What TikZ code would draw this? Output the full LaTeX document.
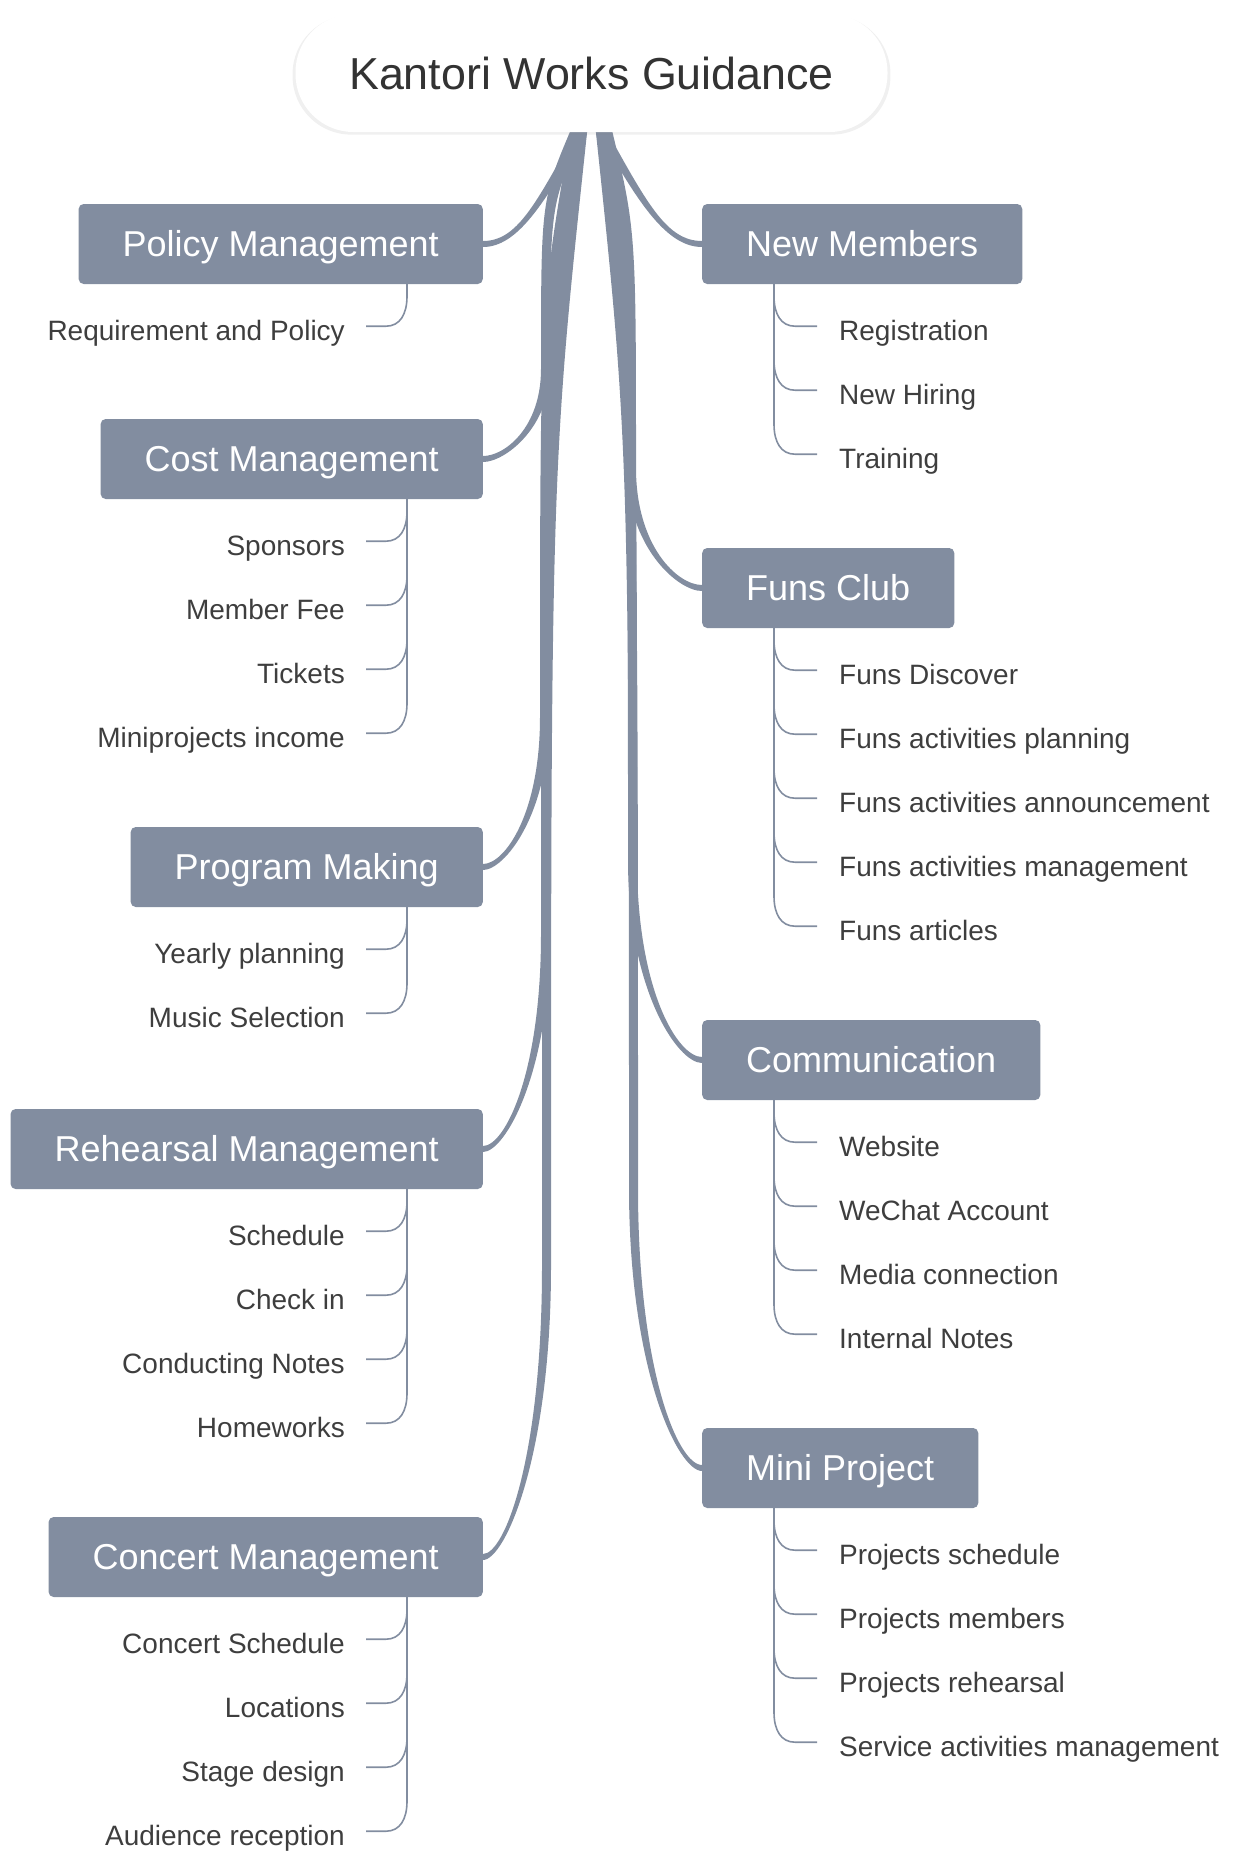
\documentclass[tikz,border=0pt]{standalone}
\usepackage{fontspec}
\setmainfont{Liberation Sans}
\usepackage{xcolor}
\usepackage{tikz}
\usetikzlibrary{calc,backgrounds,shadows}

\definecolor{kgray}{RGB}{130,141,160}
\definecolor{ktext}{RGB}{62,62,62}
\definecolor{kroot}{RGB}{51,51,51}

\tikzset{
  rootbox/.style={fill=white, rounded corners=58pt, minimum width=592pt, minimum height=118pt,
    text=kroot, font=\fontsize{44.8}{54}\selectfont, text height=32pt, text depth=0pt,
    drop shadow={opacity=0.12, shadow xshift=0pt, shadow yshift=-2pt, shadow scale=1.01}},
  branch/.style={fill=kgray, rounded corners=5pt, minimum height=80pt, inner xsep=44pt, inner ysep=0pt,
    text=white, font=\fontsize{36}{43}\selectfont, text height=25.8pt, text depth=0pt},
  leaf/.style={inner sep=0pt, text=ktext, font=\fontsize{28}{34}\selectfont, text height=29pt, text depth=0pt},
  limb/.style={fill=kgray},
  twig/.style={draw=kgray, line width=1.6pt}
}

% tapered link from the root: #1 anchor, #2 trunk shift, #3 bend height, #4 side (-1 left, 1 right), #5 lean
\newcommand{\limb}[5]{%
  \path (root.south); \pgfgetlastxy{\lmrx}{\lmry}%
  \path (#1); \pgfgetlastxy{\lmex}{\lmey}%
  \pgfmathsetmacro{\lmRx}{\lmrx+(#4)*12}%
  \pgfmathsetmacro{\lmRy}{-(\lmry)-4}%
  \pgfmathsetmacro{\lmEx}{\lmex}%
  \pgfmathsetmacro{\lmEy}{-(\lmey)}%
  \pgfmathsetmacro{\lmMx}{\lmrx+(#2)}%
  \pgfmathsetmacro{\lmLx}{\lmMx+(#5)}%
  \pgfmathsetmacro{\lmKy}{\lmEy-(#3)}%
  \pgfmathsetmacro{\lmCy}{\lmRy+0.3*(\lmKy-\lmRy)}%
  \pgfmathsetmacro{\lmQy}{\lmEy-0.35*(#3)}%
  \pgfmathsetmacro{\lmQx}{\lmEx+0.35*(\lmMx-\lmEx)}%
  \fill[limb] ({\lmRx+(#4)*8},\lmRy) .. controls ({\lmMx+(#4)*4.5},\lmCy) .. ({\lmMx+(#4)*4.5},\lmKy)
    .. controls ({\lmLx+(#4)*4.5},\lmQy) and (\lmQx,{\lmEy-3}) .. (\lmEx,{\lmEy-3})
    -- (\lmEx,{\lmEy+3})
    .. controls (\lmQx,{\lmEy+3}) and ({\lmLx-(#4)*4.5},\lmQy) .. ({\lmMx-(#4)*4.5},\lmKy)
    .. controls ({\lmMx-(#4)*4.5},\lmCy) .. ({\lmRx-(#4)*8},\lmRy) -- cycle;
}

% subtopics under a left / right main topic
\newcommand{\leavesL}[2]{%
  \foreach \t [count=\i] in {#2} {
    \node[leaf, anchor=east] (#1\i) at ($(#1.south east)+(-138,42+64*\i-64)$) {\t};
    \draw[twig] (#1.south east) ++(-76,0) -- ++(0,12+64*\i-64)
      .. controls +(0,18) and +(14,0) .. ++(-21,30) -- ([xshift=21pt]#1\i.east);
  }
}
\newcommand{\leavesR}[2]{%
  \foreach \t [count=\i] in {#2} {
    \node[leaf, anchor=west] (#1\i) at ($(#1.south west)+(137,42+64*\i-64)$) {\t};
    \draw[twig] (#1.south west) ++(72,0) -- ++(0,12+64*\i-64)
      .. controls +(0,18) and +(-14,0) .. ++(21,30) -- ([xshift=-22pt]#1\i.west);
  }
}

\begin{document}
\begin{tikzpicture}[x=1pt,y=-1pt]
\useasboundingbox (0,0) rectangle (1240,1856);
% Root
\node[rootbox] (root) at (591.5,73) {Kantori Works Guidance};
% Main topics, left
\node[branch, anchor=east] (pol) at (483,244) {Policy Management};
\node[branch, anchor=east] (cost) at (483,459) {Cost Management};
\node[branch, anchor=east] (prog) at (483,867) {Program Making};
\node[branch, anchor=east] (reh) at (483,1149) {Rehearsal Management};
\node[branch, anchor=east] (conc) at (483,1557) {Concert Management};
% Main topics, right
\node[branch, anchor=west] (newm) at (702,244) {New Members};
\node[branch, anchor=west] (funs) at (702,588) {Funs Club};
\node[branch, anchor=west] (comm) at (702,1060) {Communication};
\node[branch, anchor=west] (mini) at (702,1468) {Mini Project};
% Links from the root
\begin{scope}[on background layer]
\limb{pol.east}{-12}{111}{-1}{-40}
\limb{cost.east}{-46}{90}{-1}{0}
\limb{prog.east}{-47}{150}{-1}{0}
\limb{reh.east}{-46}{215}{-1}{0}
\limb{conc.east}{-45}{290}{-1}{0}
\limb{newm.west}{12}{111}{1}{40}
\limb{funs.west}{40}{120}{1}{0}
\limb{comm.west}{41}{200}{1}{0}
\limb{mini.west}{42}{280}{1}{0}
\end{scope}
% Subtopics
\leavesL{pol}{Requirement and Policy}
\leavesL{cost}{Sponsors, Member Fee, Tickets, Miniprojects income}
\leavesL{prog}{Yearly planning, Music Selection}
\leavesL{reh}{Schedule, Check in, Conducting Notes, Homeworks}
\leavesL{conc}{Concert Schedule, Locations, Stage design, Audience reception}
\leavesR{newm}{Registration, New Hiring, Training}
\leavesR{funs}{Funs Discover, Funs activities planning, Funs activities announcement, Funs activities management, Funs articles}
\leavesR{comm}{Website, WeChat Account, Media connection, Internal Notes}
\leavesR{mini}{Projects schedule, Projects members, Projects rehearsal, Service activities management}
\end{tikzpicture}
\end{document}
